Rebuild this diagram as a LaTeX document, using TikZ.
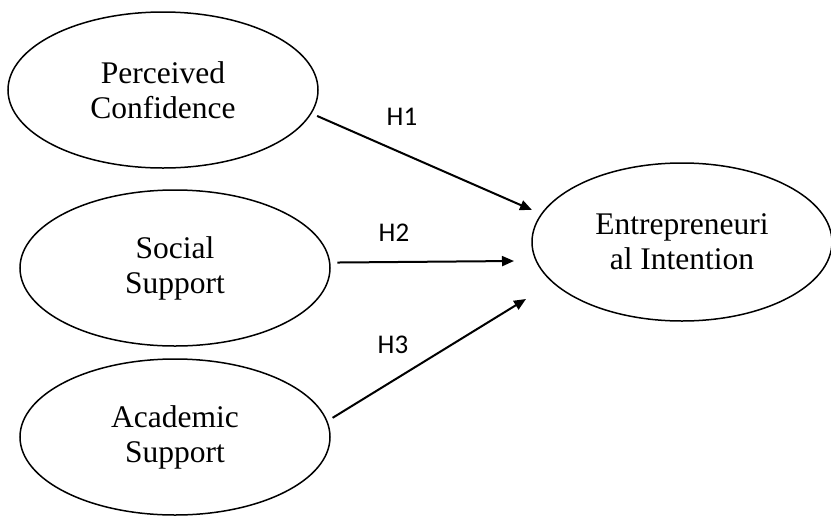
\documentclass[tikz,border=0pt]{standalone}
\usepackage{fontspec}
\setmainfont{Liberation Serif}
\newfontfamily\hfont{Carlito}
\usetikzlibrary{arrows.meta,positioning,shapes.geometric}
\tikzset{
  construct/.style={ellipse, draw, line width=1.5pt, inner sep=0pt, minimum width=310pt, minimum height=156pt, align=center, font=\fontsize{31.5}{35}\selectfont},
  hyp/.style={font=\hfont\fontsize{27}{30}\selectfont, inner sep=0pt},
  path/.style={line width=2pt, -{Triangle[length=12pt,width=10pt]}},
}

\begin{document}
\begin{tikzpicture}[x=1pt, y=-1pt]
  \useasboundingbox (0,0) rectangle (831,515);

  %% ==================
  %% Constructs
  %% ==================
  \node[construct] (pc) at (163,90)  {Perceived\\Confidence};
  \node[construct] (ss) at (175,268) {Social\\Support};
  \node[construct] (as) at (175,437) {Academic\\Support};
  \node[construct, minimum width=300pt, minimum height=158pt] (ei) at (682,242) {Entrepreneuri\\al Intention};

  % arrow tips stop short of the outcome
  \coordinate (t1) at (532,210);
  \coordinate (t2) at (514,261);
  \coordinate (t3) at (526,299);

  %% ==================
  %% Hypotheses
  %% ==================
  \draw[path, shorten <=6pt] (pc.-9) -- (t1);
  \draw[path, shorten <=7pt] (ss.2) -- (t2);
  \draw[path, shorten <=6pt] (as.6) -- (t3);

  \node[hyp] (h1) at (402,117) {H1};
  \node[hyp] (h2) at (394,233) {H2};
  \node[hyp] (h3) at (393,345) {H3};
\end{tikzpicture}
\end{document}
